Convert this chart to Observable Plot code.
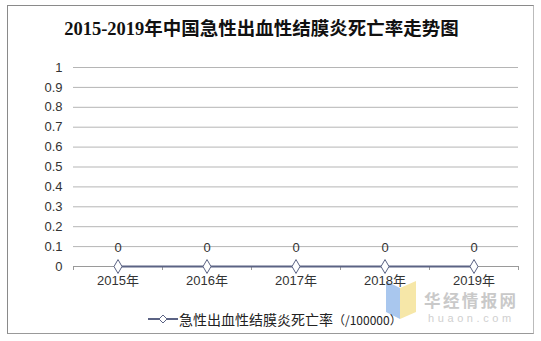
<!DOCTYPE html>
<html><head><meta charset="utf-8">
<script src="https://cdn.jsdelivr.net/npm/d3@7"></script>
<script src="https://cdn.jsdelivr.net/npm/@observablehq/plot@0.6"></script>
<style>
body{margin:0;background:#fff;width:541px;height:341px;overflow:hidden;position:relative;font-family:"Liberation Sans","Noto Sans CJK SC",sans-serif;}
#frame{position:absolute;left:7px;top:5px;width:527px;height:329px;border:1px solid #8a8a8a;border-right-color:#bbb;border-bottom-color:#999;box-sizing:border-box;}
#title{position:absolute;left:-9px;top:14px;width:541px;text-align:center;font-family:"Liberation Serif","Noto Sans CJK SC",serif;font-weight:bold;font-size:18.5px;color:#111;}
#chart{position:absolute;left:0;top:45px;}
#legend{position:absolute;left:148px;top:309px;font-size:14px;color:#222;display:flex;align-items:center;white-space:nowrap;}
#logo{position:absolute;left:380px;top:278px;}
.wm1{position:absolute;left:424px;top:292px;font-family:'Noto Sans CJK SC';font-weight:bold;font-size:16.5px;line-height:16px;color:#c9c9c9;letter-spacing:2.4px;}
.wm2{position:absolute;left:428px;top:313px;font-family:'Liberation Sans';font-size:11px;line-height:10px;color:#d0d0d0;letter-spacing:3.6px;}
</style></head>
<body>
<div id="frame"></div>
<div id="title">2015-2019年中国急性出血性结膜炎死亡率走势图</div>
<svg id="logo" width="40" height="45">
  <polygon points="6,3 20,10 20,41 6,34" fill="#a9c7ee"/>
  <polygon points="20,10 36,3 36,34 20,41" fill="#f6e7a8"/>
</svg>
<div class="wm1">华经情报网</div>
<div class="wm2">huaon.com</div>
<div id="chart"></div>
<div id="legend">
  <svg width="30" height="12"><line x1="0" y1="6" x2="30" y2="6" stroke="#5b6384" stroke-width="2"/><path d="M15,2 L19,6 L15,10 L11,6 Z" fill="#fff" stroke="#5b6384" stroke-width="1"/></svg>
  <span style="margin-left:1px;font-family:'Noto Sans CJK SC'">急性出血性结膜炎死亡率</span><span style="font-size:12px;font-family:'Noto Sans CJK SC'">（/100000）</span>
</div>
<script>
const years = ["2015年","2016年","2017年","2018年","2019年"];
const rates = [0, 0, 0, 0, 0];
const yTicks = [0,0.1,0.2,0.3,0.4,0.5,0.6,0.7,0.8,0.9,1];

const data = years.map((y, i) => ({year: y, i: i + 0.5, v: rates[i]}));
const lineColor = "#5b6384";

const chart = Plot.plot({
  width: 541,
  height: 245,
  marginLeft: 73,
  marginRight: 23,
  marginTop: 22,
  marginBottom: 24,
  style: {fontFamily: "'Liberation Sans','Noto Sans CJK SC',sans-serif", fontSize: "13px", color: "#333", background: "transparent"},
  x: {type: "linear", domain: [0, years.length], axis: null, label: null},
  y: {domain: [0, 1], axis: null, label: null},
  marks: [
    Plot.ruleY(yTicks.filter(t => t > 0), {stroke: "#b5b5b5", strokeWidth: 1, strokeOpacity: 1}),
    Plot.axisY(yTicks, {tickSize: 0, tickPadding: 11, tickFormat: d => String(d), fontSize: 13, fill: "#333", label: null}),
    Plot.ruleY([0], {stroke: "#9a9a9a", strokeWidth: 1}),
    Plot.axisX(d3.range(years.length + 1), {tickSize: 4, stroke: "#9a9a9a", tickFormat: () => "", strokeOpacity: 1, label: null}),
    Plot.axisX(data.map(d => d.i), {tickSize: 0, tickPadding: 9, tickFormat: t => years[Math.floor(t)], fontSize: 13, fill: "#333", label: null}),
    Plot.line(data, {x: "i", y: "v", stroke: lineColor, strokeWidth: 2.2}),
    Plot.dot(data, {x: "i", y: "v", symbol: "diamond", r: 4.2, fill: "#fff", stroke: lineColor, strokeWidth: 1}),
    Plot.text(data, {x: "i", y: "v", text: d => String(d.v), dy: -19, fontSize: 13, fill: "#333"})
  ]
});
document.getElementById("chart").appendChild(chart);
</script>
</body></html>
